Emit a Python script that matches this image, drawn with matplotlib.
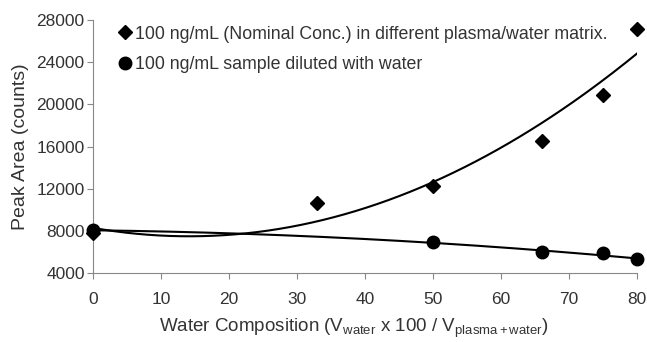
import matplotlib.pyplot as plt
import numpy as np

plt.rcParams['font.family'] = ['Liberation Sans', 'DejaVu Sans']
plt.rcParams['mathtext.fontset'] = 'custom'
plt.rcParams['mathtext.rm'] = 'Liberation Sans'
plt.rcParams['mathtext.it'] = 'Liberation Sans'

# water composition (%) and peak areas
x_matrix = [0, 33, 50, 66, 75, 80]
y_matrix = [7800, 10600, 12300, 16500, 20850, 27100]
x_diluted = [0, 50, 66, 75, 80]
y_diluted = [8050, 6900, 6000, 5850, 5300]

label_matrix = '100 ng/mL (Nominal Conc.) in different plasma/water matrix.'
label_diluted = '100 ng/mL sample diluted with water'

x_ticks = [0, 10, 20, 30, 40, 50, 60, 70, 80]
y_ticks = [4000, 8000, 12000, 16000, 20000, 24000, 28000]

txt = '#333333'
fig = plt.figure(figsize=(6.47, 3.42), dpi=100)
ax = fig.add_axes([93 / 647, 1 - 273 / 342, 544 / 647, 253 / 342])

# 2nd order polynomial trendlines
xs = np.linspace(0, 80, 200)
c1 = np.polyfit(x_matrix, y_matrix, 2)
c2 = np.polyfit(x_diluted, y_diluted, 2)
ax.plot(xs, np.polyval(c1, xs), color='black', lw=1.5, zorder=2)
ax.plot(xs, np.polyval(c2, xs), color='black', lw=1.5, zorder=2)

ax.plot(x_matrix, y_matrix, 'D', color='black', ms=7, label=label_matrix, zorder=3, clip_on=False)
ax.plot(x_diluted, y_diluted, 'o', color='black', ms=9, label=label_diluted, zorder=3, clip_on=False)

ax.set_xlim(0, 80)
ax.set_ylim(4000, 28000)
ax.set_xticks(x_ticks)
ax.set_yticks(y_ticks)
ax.tick_params(labelsize=12.5, colors=txt, length=4, color='#888888')
ax.tick_params(axis='x', pad=10)
ax.tick_params(axis='y', pad=2)
for s in ['top', 'right']:
    ax.spines[s].set_visible(False)
for s in ['left', 'bottom']:
    ax.spines[s].set_color('#888888')

ax.set_ylabel('Peak Area (counts)', fontsize=14, color=txt, labelpad=5)
ax.set_xlabel(r'Water Composition (V$_{\mathrm{water}}$ x 100 / V$_{\mathrm{plasma + water}}$)',
              fontsize=13.5, color=txt)
ax.xaxis.set_label_coords(0.48, -0.175)

leg = ax.legend(loc='upper left', bbox_to_anchor=(0.03, 1.02), frameon=False, fontsize=12.8,
                handlelength=0.6, handletextpad=0.25, labelspacing=0.75, borderaxespad=0.2)
for t in leg.get_texts():
    t.set_color(txt)

fig.savefig('out.png', dpi=100)
